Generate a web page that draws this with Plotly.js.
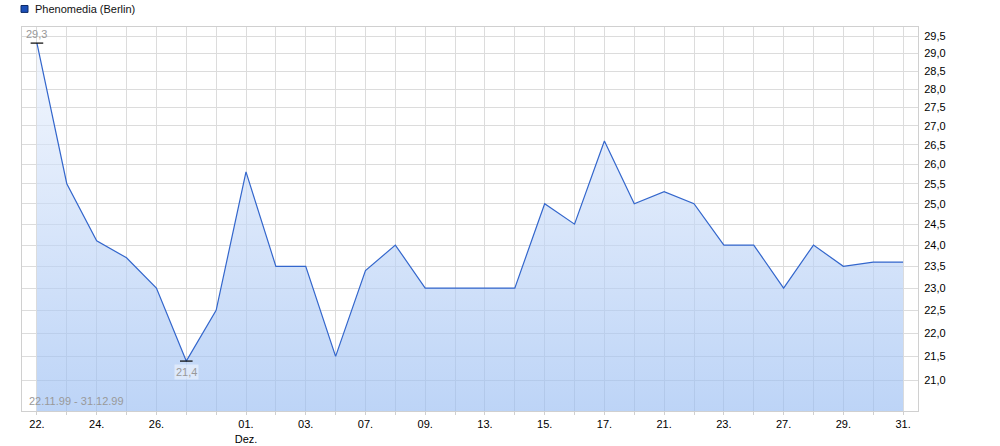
<!DOCTYPE html>
<html>
<head>
<meta charset="utf-8">
<script src="https://cdn.plot.ly/plotly-3.0.1.min.js"></script>
<style>
html,body{margin:0;padding:0;background:#fff;}
#chart{width:1000px;height:446px;}
</style>
</head>
<body>
<div id="chart"></div>
<script>
// Trading days 22.11.1999 - 31.12.1999
const dayLabels = ['22.','23.','24.','25.','26.','29.','30.','01.','02.','03.','06.','07.','08.','09.','10.',
                   '13.','14.','15.','16.','17.','20.','21.','22.','23.','24.','27.','28.','29.','30.','31.'];
const prices = [29.3,25.5,24.1,23.7,23.0,21.4,22.5,25.8,23.5,23.5,21.5,23.4,24.0,23.0,23.0,
                23.0,23.0,25.0,24.5,26.6,25.0,25.3,25.0,24.0,24.0,23.0,24.0,23.5,23.6,23.6];
const labeledIdx = [0,2,4,7,9,11,13,15,17,19,21,23,25,27,29];
const monthLabel = {7:'Dez.'};
const yTickVals = [21.0,21.5,22.0,22.5,23.0,23.5,24.0,24.5,25.0,25.5,26.0,26.5,27.0,27.5,28.0,28.5,29.0,29.5];
const seriesName = 'Phenomedia (Berlin)';
const periodText = '22.11.99 - 31.12.99';
const yLow = 20.37, yHigh = 29.77;

const idx = prices.map((_, i) => i);
const tickText = idx.map(i => labeledIdx.includes(i) ? (dayLabels[i] + (monthLabel[i] ? '<br>' + monthLabel[i] : '')) : '');
const fmt = v => v.toFixed(1).replace('.', ',');

const maxV = Math.max(...prices), minV = Math.min(...prices);
const iMax = prices.indexOf(maxV), iMin = prices.indexOf(minV);

const data = [
  {
    x: idx, y: prices, type: 'scatter', mode: 'lines', name: seriesName,
    line: {color: '#3366cc', width: 1.2},
    fill: 'tozeroy',
    fillgradient: {type: 'vertical', start: yLow, stop: yHigh,
                   colorscale: [[0, 'rgba(150,187,242,0.63)'], [1, 'rgba(241,245,253,0.63)']]},
    hoverinfo: 'skip', showlegend: false
  },
  {
    x: [iMax, iMin], y: [maxV, minV], type: 'scatter', mode: 'markers',
    marker: {symbol: 'line-ew', size: 9, line: {color: '#000', width: 1.2}},
    hoverinfo: 'skip', showlegend: false
  }
];

const layout = {
  width: 1000, height: 446,
  margin: {l: 22, r: 82, t: 27, b: 35},
  paper_bgcolor: '#fff', plot_bgcolor: '#fff',
  font: {family: 'Liberation Sans, Arial, sans-serif', size: 11, color: '#000'},
  showlegend: false,
  xaxis: {
    range: [-0.5, 29.5], tickmode: 'array', tickvals: idx, ticktext: tickText,
    showgrid: true, gridcolor: '#dcdcdc', gridwidth: 1,
    zeroline: false, showline: true, linecolor: '#d0d0d0', mirror: true,
    ticks: 'outside', ticklen: 3, tickcolor: '#d0d0d0',
    tickfont: {size: 11, color: '#000'}, fixedrange: true
  },
  yaxis: {
    type: 'log', range: [Math.log10(yLow), Math.log10(yHigh)],
    side: 'right', tickmode: 'array', tickvals: yTickVals, ticktext: yTickVals.map(fmt),
    showgrid: true, gridcolor: '#dcdcdc', gridwidth: 1,
    zeroline: false, showline: true, linecolor: '#d0d0d0', mirror: true,
    ticks: '', ticklabelstandoff: 3,
    tickfont: {size: 11, color: '#000'}, fixedrange: true
  },
  shapes: [
    {type: 'rect', xref: 'paper', yref: 'paper', x0: -0.0011, x1: 0.0067,
     y0: 1.038, y1: 1.056, fillcolor: '#1c50b8', line: {color: '#0d2a66', width: 1}}
  ],
  annotations: [
    {xref: 'paper', yref: 'paper', x: 0.0125, y: 1.047, xanchor: 'left', yanchor: 'middle',
     text: seriesName, showarrow: false, font: {size: 11, color: '#111'}},
    {x: iMax, y: Math.log10(maxV), text: fmt(maxV), showarrow: false, yanchor: 'bottom', yshift: 1,
     font: {size: 11, color: '#999'}},
    {x: iMin, y: Math.log10(minV), text: fmt(minV), showarrow: false, yanchor: 'top', yshift: -3,
     font: {size: 11, color: '#999'}, bgcolor: 'rgba(255,255,255,0.45)'},
    {xref: 'paper', yref: 'paper', x: 0.006, y: 0.005, xanchor: 'left', yanchor: 'bottom',
     text: periodText, showarrow: false, font: {size: 11, color: '#999'}}
  ]
};

Plotly.newPlot('chart', data, layout, {displayModeBar: false, staticPlot: true});
</script>
</body>
</html>
